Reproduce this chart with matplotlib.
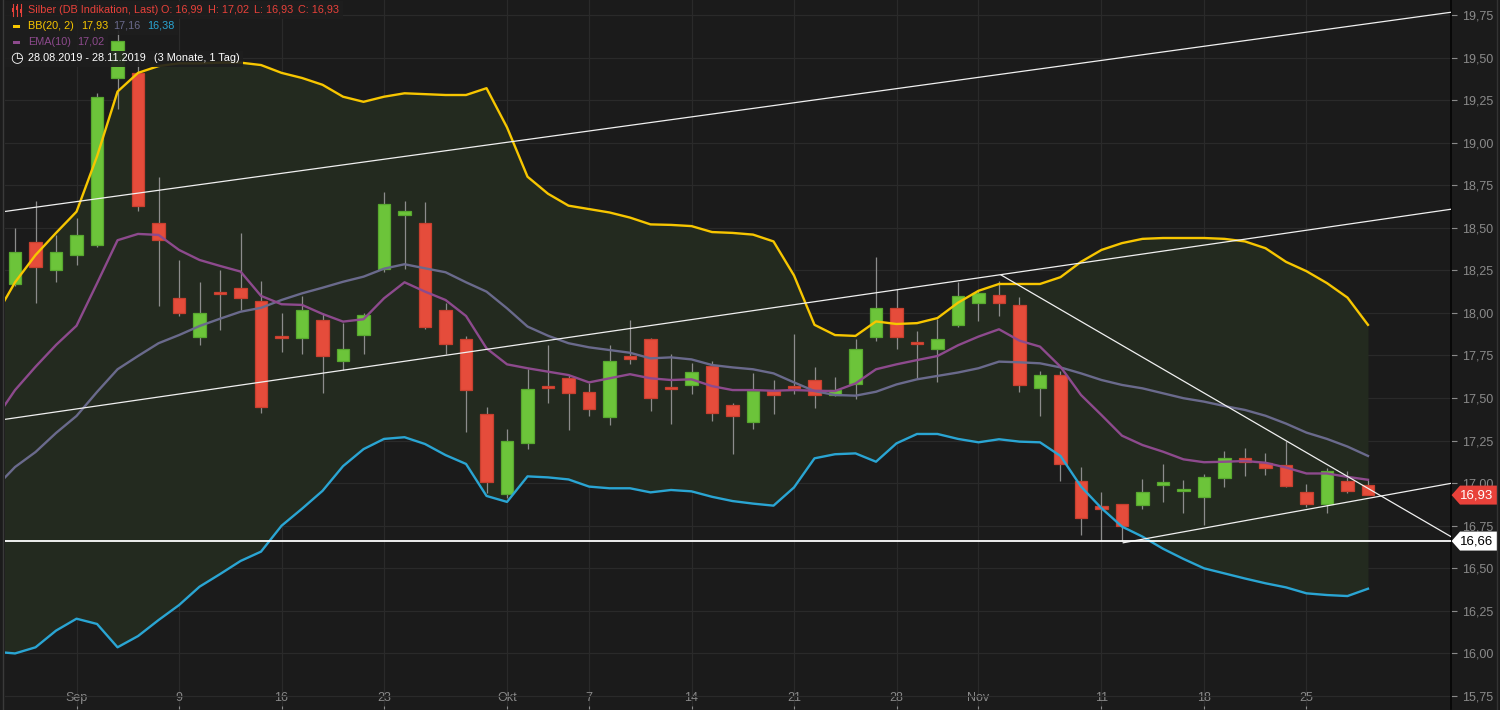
import numpy as np
import pandas as pd
import matplotlib
matplotlib.use('Agg')
import matplotlib.pyplot as plt
from matplotlib.patches import Rectangle, Polygon
import matplotlib.transforms as mtransforms

plt.rcParams['font.family'] = ['Liberation Sans', 'DejaVu Sans']

# --- data ---
dates = pd.bdate_range('2019-08-28', '2019-11-28')

opens = [18.17, 18.415, 18.25, 18.34, 18.40, 19.38, 19.41, 18.53, 18.09, 17.86,
         18.12, 18.145, 18.07, 17.86, 17.85, 17.96, 17.72, 17.87, 18.26, 18.575,
         18.53, 18.02, 17.845, 17.405, 16.935, 17.235, 17.57, 17.62, 17.535, 17.39,
         17.745, 17.845, 17.56, 17.575, 17.69, 17.46, 17.36, 17.54, 17.565, 17.605,
         17.52, 17.585, 17.857, 18.027, 17.825, 17.786, 17.93, 18.057, 18.105, 18.045,
         17.56, 17.635, 17.015, 16.865, 16.875, 16.872, 16.99, 16.952, 16.92, 17.03,
         17.145, 17.12, 17.105, 16.95, 16.876, 17.013, 16.99]
highs = [18.50, 18.66, 18.46, 18.56, 19.29, 19.66, 19.50, 18.80, 18.31, 18.18,
         18.25, 18.47, 18.19, 18.00, 18.10, 18.00, 17.94, 18.00, 18.71, 18.66,
         18.65, 18.06, 17.865, 17.45, 17.32, 17.67, 17.81, 17.635, 17.59, 17.81,
         17.96, 17.85, 17.76, 17.705, 17.72, 17.47, 17.65, 17.605, 17.875, 17.68,
         17.625, 17.845, 18.33, 18.14, 17.895, 17.965, 18.18, 18.135, 18.185, 18.095,
         17.66, 17.66, 17.095, 16.95, 16.88, 17.025, 17.11, 17.017, 17.055, 17.19,
         17.205, 17.18, 17.245, 16.995, 17.09, 17.073, 17.02]
lows = [18.16, 18.06, 18.18, 18.28, 18.39, 19.20, 18.60, 18.04, 17.98, 17.81,
        17.90, 18.02, 17.41, 17.77, 17.76, 17.53, 17.665, 17.76, 18.24, 18.26,
        17.905, 17.76, 17.30, 16.94, 16.91, 17.20, 17.47, 17.31, 17.395, 17.34,
        17.70, 17.425, 17.35, 17.525, 17.365, 17.17, 17.32, 17.405, 17.525, 17.44,
        17.51, 17.495, 17.835, 17.79, 17.615, 17.595, 17.92, 17.95, 17.98, 17.535,
        17.395, 17.01, 16.695, 16.665, 16.66, 16.85, 16.89, 16.827, 16.755, 16.98,
        17.04, 17.05, 16.98, 16.86, 16.827, 16.94, 16.93]
closes = [18.36, 18.27, 18.36, 18.46, 19.27, 19.60, 18.63, 18.43, 18.00, 18.00,
          18.11, 18.09, 17.45, 17.855, 18.02, 17.745, 17.79, 17.99, 18.64, 18.60,
          17.92, 17.82, 17.545, 17.005, 17.245, 17.555, 17.557, 17.53, 17.435, 17.715,
          17.73, 17.50, 17.555, 17.655, 17.415, 17.395, 17.54, 17.52, 17.56, 17.52,
          17.545, 17.79, 18.027, 17.857, 17.82, 17.845, 18.10, 18.115, 18.06, 17.575,
          17.635, 17.115, 16.795, 16.85, 16.75, 16.947, 17.005, 16.963, 17.035, 17.145,
          17.125, 17.09, 16.985, 16.875, 17.073, 16.952, 16.93]

# indicator values; the first value belongs to the day before the first candle
bb_upper = [17.97, 18.18, 18.34, 18.47, 18.595, 18.92, 19.30, 19.41, 19.45, 19.466, 19.466,
            19.47, 19.47, 19.456, 19.41, 19.38, 19.34, 19.27, 19.24, 19.27, 19.29,
            19.285, 19.28, 19.28, 19.32, 19.09, 18.80, 18.70, 18.63, 18.61, 18.59,
            18.56, 18.52, 18.517, 18.51, 18.475, 18.47, 18.46, 18.42, 18.22, 17.93,
            17.87, 17.865, 17.95, 17.935, 17.94, 17.97, 18.06, 18.13, 18.17, 18.17,
            18.17, 18.21, 18.30, 18.37, 18.41, 18.435, 18.44, 18.44, 18.44, 18.435,
            18.42, 18.38, 18.30, 18.245, 18.175, 18.09, 17.93]
bb_mid = [16.97, 17.095, 17.183, 17.295, 17.395, 17.536, 17.669, 17.747, 17.822, 17.87, 17.923,
          17.966, 18.007, 18.03, 18.076, 18.115, 18.148, 18.183, 18.213, 18.26, 18.286,
          18.262, 18.239, 18.18, 18.125, 18.027, 17.92, 17.866, 17.822, 17.798, 17.782,
          17.766, 17.733, 17.739, 17.727, 17.694, 17.68, 17.669, 17.645, 17.592, 17.541,
          17.518, 17.514, 17.537, 17.58, 17.61, 17.63, 17.65, 17.675, 17.714, 17.71,
          17.704, 17.68, 17.645, 17.606, 17.577, 17.557, 17.528, 17.499, 17.479, 17.453,
          17.43, 17.396, 17.35, 17.297, 17.26, 17.215, 17.16]
bb_lower = [16.01, 16.00, 16.036, 16.134, 16.204, 16.173, 16.036, 16.102, 16.196, 16.284, 16.392,
            16.466, 16.543, 16.598, 16.75, 16.85, 16.955, 17.10, 17.20, 17.26, 17.27,
            17.23, 17.165, 17.113, 16.925, 16.89, 17.04, 17.034, 17.022, 16.98, 16.97,
            16.97, 16.946, 16.96, 16.952, 16.92, 16.895, 16.88, 16.868, 16.975, 17.146,
            17.17, 17.175, 17.126, 17.234, 17.289, 17.289, 17.26, 17.24, 17.258, 17.244,
            17.24, 17.16, 16.98, 16.853, 16.745, 16.686, 16.615, 16.555, 16.50, 16.47,
            16.44, 16.412, 16.388, 16.353, 16.343, 16.337, 16.38]
ema10 = [17.37, 17.547, 17.684, 17.812, 17.925, 18.174, 18.427, 18.464, 18.458, 18.37, 18.311,
         18.276, 18.243, 18.10, 18.051, 18.047, 17.994, 17.949, 17.963, 18.086, 18.18,
         18.125, 18.076, 17.982, 17.792, 17.698, 17.675, 17.655, 17.635, 17.592, 17.616,
         17.64, 17.616, 17.606, 17.61, 17.57, 17.547, 17.547, 17.543, 17.547, 17.543,
         17.541, 17.586, 17.669, 17.698, 17.723, 17.747, 17.81, 17.861, 17.904, 17.837,
         17.802, 17.684, 17.518, 17.40, 17.279, 17.224, 17.185, 17.14, 17.123, 17.126,
         17.13, 17.12, 17.092, 17.057, 17.057, 17.037, 17.02]

tick_dates = ['2019-09-02', '2019-09-09', '2019-09-16', '2019-09-23', '2019-10-01',
              '2019-10-07', '2019-10-14', '2019-10-21', '2019-10-28', '2019-11-01',
              '2019-11-11', '2019-11-18', '2019-11-25']
tick_labels = ['Sep', '9', '16', '23', 'Okt', '7', '14', '21', '28', 'Nov', '11', '18', '25']

# hand drawn lines: (candle index, price) pairs
trend_lines = [((-0.49, 18.596), (70.05, 19.766)),
               ((-0.49, 17.375), (70.05, 18.609)),
               ((48.1, 18.223), (70.05, 16.686)),
               ((54.06, 16.65), (70.05, 16.999))]
support = 16.66
last_price = closes[-1]

BG = '#1b1b1b'
GREEN = '#6cc43a'
RED = '#e54c3b'
YELLOW = '#f7c600'
MID = '#6a6a8c'
BLUE = '#2aa5d3'
PURPLE = '#8d4a8d'
GRAY = '#8a8a8a'

fig = plt.figure(figsize=(15, 7.1), dpi=100, facecolor=BG)
ax = fig.add_axes([5/1500, 1/710, 1446/1500, 709/710], facecolor=BG)
ax.set_xlim(-0.49, 70.05)
ax.set_ylim(15.6736, 19.838)

idx = np.arange(len(dates))
ind_x = np.arange(-1, len(dates))
pos = {d: i for i, d in enumerate(dates)}
xt = [pos[pd.Timestamp(d)] for d in tick_dates]

# grid
yt = np.arange(15.75, 19.76, 0.25)
ax.set_yticks(yt)
ax.set_yticklabels([('%.2f' % v).replace('.', ',') for v in yt])
ax.set_xticks(xt)
ax.set_xticklabels(tick_labels)
ax.grid(True, color='#2a2a2a', lw=0.9, zorder=0)
ax.set_axisbelow(True)

ax.yaxis.tick_right()
ax.tick_params(axis='y', colors=GRAY, labelcolor=GRAY, labelsize=9, length=4, width=0.8, pad=4)
ax.tick_params(axis='x', colors=GRAY, labelcolor=GRAY, labelsize=9, length=2.2, width=0.8,
               direction='in', pad=-12.5)
for s in ['top', 'left', 'bottom']:
    ax.spines[s].set_visible(False)
ax.spines['right'].set_color('#050505')
ax.spines['right'].set_linewidth(1.2)

# bollinger area
ax.fill_between(ind_x, bb_lower, bb_upper, color='#232a1f', lw=0, zorder=1)

# candles
for i in idx:
    o, h, l, c = opens[i], highs[i], lows[i], closes[i]
    col = GREEN if c >= o else RED
    ec = '#58a82f' if c >= o else '#c8402f'
    ax.vlines(i, l, h, color='#8c8c8c', lw=0.9, zorder=2)
    lo = min(o, c)
    hgt = max(abs(c - o), 0.012)
    ax.add_patch(Rectangle((i - 0.3, lo), 0.6, hgt, facecolor=col, edgecolor=ec,
                           lw=0.9, zorder=3))

# indicators
ax.plot(ind_x, bb_mid, color=MID, lw=1.7, zorder=4)
ax.plot(ind_x, ema10, color=PURPLE, lw=1.7, zorder=4)
ax.plot(ind_x, bb_upper, color=YELLOW, lw=1.7, zorder=4)
ax.plot(ind_x, bb_lower, color=BLUE, lw=1.7, zorder=4)

# drawn lines
for (x0, y0), (x1, y1) in trend_lines:
    ax.plot([x0, x1], [y0, y1], color='#f0f0f0', lw=0.9, zorder=5)
ax.axhline(support, color='white', lw=1.3, zorder=5)

# price tags on the right axis
trans = mtransforms.blended_transform_factory(ax.transAxes, ax.transData)
def tag(y, fc, tc, txt):
    hh = 9.5 / 170.25
    x0 = 1.0004
    xa = (1460 - 5) / 1446
    x1 = (1498 - 5) / 1446
    poly = Polygon([(x0, y), (xa, y + hh), (x1, y + hh), (x1, y - hh), (xa, y - hh)],
                   closed=True, transform=trans, facecolor=fc, edgecolor='none',
                   clip_on=False, zorder=6)
    ax.add_patch(poly)
    ax.text((1477 - 5) / 1446, y, txt, transform=trans, color=tc, fontsize=9.5,
            ha='center', va='center', clip_on=False, zorder=7)

tag(last_price, '#e8413a', 'white', ('%.2f' % last_price).replace('.', ','))
tag(support, 'white', 'black', ('%.2f' % support).replace('.', ','))

# header / legend
def px(x, y):
    return x / 1500, 1 - y / 710

def box(x0, x1, y0, y1):
    fig.add_artist(Rectangle(px(x0, y1), (x1 - x0) / 1500, (y1 - y0) / 710,
                             transform=fig.transFigure, facecolor='#1e1e1e',
                             edgecolor='none', alpha=0.9, zorder=10))

box(5, 343, 1, 19)
box(5, 178, 19, 35)
box(5, 108, 35, 51)
box(5, 243, 51, 67)

fs = 7.8
def t(x, y, s, c, **kw):
    fig.text(*px(x, y), s, color=c, fontsize=fs, va='center', ha='left', zorder=11, **kw)

# small candle icon
for k, (xx, b0, b1) in enumerate([(13, 8, 12), (17, 6, 10), (21, 9, 13)]):
    fig.add_artist(plt.Line2D([xx / 1500] * 2, [1 - 4 / 710, 1 - 16 / 710],
                              transform=fig.transFigure, color='#e8413a', lw=0.8, zorder=11))
    fig.add_artist(Rectangle(px(xx - 1.3, b1), 2.6 / 1500, (b1 - b0) / 710,
                             transform=fig.transFigure, facecolor='#e8413a',
                             edgecolor='none', zorder=11))

t(28, 10, 'Silber (DB Indikation, Last)', '#e8413a')
t(161, 10, 'O: 16,99', '#e8413a')
t(208, 10, 'H: 17,02', '#e8413a')
t(254, 10, 'L: 16,93', '#e8413a')
t(298, 10, 'C: 16,93', '#e8413a')

fig.add_artist(Rectangle(px(13, 28), 7 / 1500, 3 / 710, transform=fig.transFigure,
                         facecolor=YELLOW, edgecolor='none', zorder=11))
t(28, 26, 'BB(20, 2)', YELLOW)
t(81, 26, '17,93', YELLOW)
t(113, 26, '17,16', MID)
t(147, 26, '16,38', BLUE)

fig.add_artist(Rectangle(px(13, 44), 7 / 1500, 3 / 710, transform=fig.transFigure,
                         facecolor=PURPLE, edgecolor='none', zorder=11))
t(28, 42, 'EMA(10)', PURPLE)
t(77, 42, '17,02', PURPLE)

fig.text(*px(10, 58), '\u25f7', color='white', fontsize=10.5, va='center', ha='left',
         family='DejaVu Sans', zorder=11)
t(28, 58, '28.08.2019 - 28.11.2019', 'white')
t(154, 58, '(3 Monate, 1 Tag)', 'white')

# thin edges of the chart window
fig.add_artist(plt.Line2D([3 / 1500] * 2, [0, 1], transform=fig.transFigure,
                          color='#3a3a3a', lw=1.0))
fig.add_artist(plt.Line2D([1497 / 1500] * 2, [0, 1], transform=fig.transFigure,
                          color='#333333', lw=1.0))

fig.savefig('out.png', dpi=100, facecolor=BG)
